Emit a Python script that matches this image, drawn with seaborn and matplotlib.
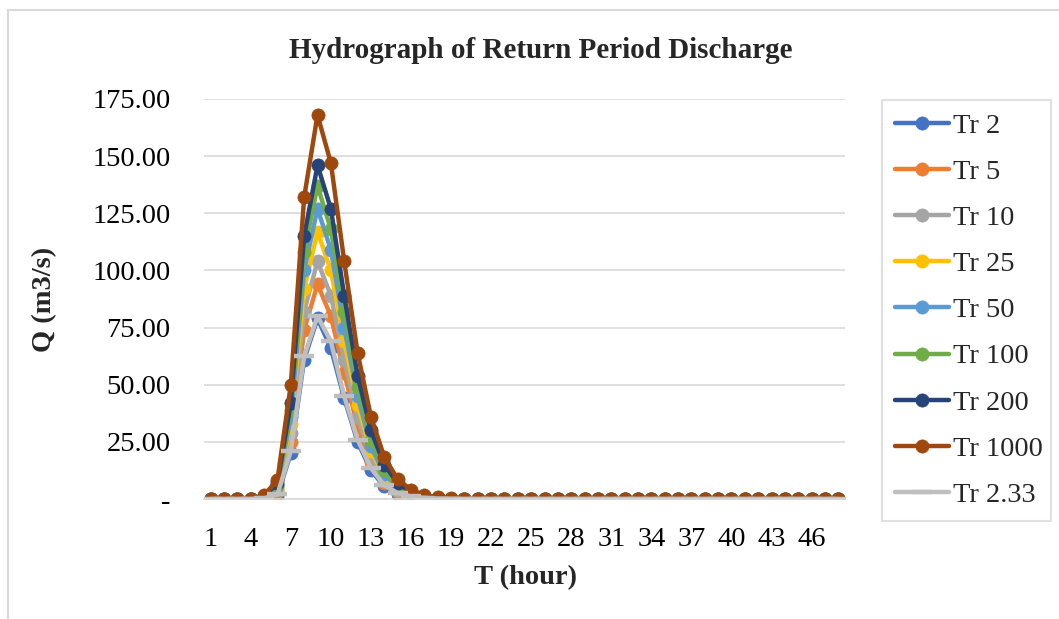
import matplotlib
matplotlib.use("Agg")
import matplotlib.pyplot as plt
import seaborn as sns
import pandas as pd
from matplotlib.patches import Rectangle

hours = list(range(1, 49))
tail = [0.0] * 29  # hours 20-48 read as ~0

tr2    = [0, 0, 0, 0, 0.2, 1.5, 20, 61, 79, 66, 44, 25, 12.5, 5.5, 2.4, 1.0, 0.4, 0.2, 0.1] + tail
tr5    = [0, 0, 0, 0, 0.4, 3.0, 25, 74, 94, 80, 55, 32, 16, 7.0, 3.0, 1.3, 0.5, 0.2, 0.1] + tail
tr10   = [0, 0, 0, 0, 0.5, 4.0, 29, 82, 104, 89, 61, 36, 18, 8.0, 3.5, 1.5, 0.6, 0.3, 0.1] + tail
tr25   = [0, 0, 0, 0, 0.7, 5.0, 33, 92, 117, 100, 69, 41, 21, 10, 4.3, 1.8, 0.7, 0.3, 0.1] + tail
tr50   = [0, 0, 0, 0, 0.8, 5.5, 36, 100, 127, 109, 75, 45, 23, 11, 5.0, 2.0, 0.8, 0.3, 0.1] + tail
tr100  = [0, 0, 0, 0, 0.9, 6.0, 39, 108, 137, 118, 82, 49, 26, 12.5, 5.5, 2.3, 0.9, 0.4, 0.2] + tail
tr200  = [0, 0, 0, 0, 1.0, 7.0, 42, 115, 146, 127, 89, 54, 30, 15, 7.0, 3.0, 1.2, 0.5, 0.2] + tail
tr1000 = [0, 0, 0, 0, 1.7, 8.3, 50, 132, 168, 147, 104, 64, 36, 18.4, 8.7, 4.0, 1.7, 0.8, 0.3] + tail
tr233  = [0, 0, 0, 0, 0.3, 2.0, 21, 62.5, 80, 69, 45, 26, 13.5, 6.0, 2.6, 1.1, 0.5, 0.2, 0.1] + tail

series_names = ["Tr 2", "Tr 5", "Tr 10", "Tr 25", "Tr 50", "Tr 100", "Tr 200", "Tr 1000", "Tr 2.33"]
series_vals = [tr2, tr5, tr10, tr25, tr50, tr100, tr200, tr1000, tr233]
colors = ["#4472C4", "#ED7D31", "#A5A5A5", "#FFC000", "#5B9BD5", "#70AD47", "#264478", "#9E480E", "#BFBFBF"]

yticks = [0, 25, 50, 75, 100, 125, 150, 175]
ytick_labels = ["-", "25.00", "50.00", "75.00", "100.00", "125.00", "150.00", "175.00"]
xticks = list(range(1, 49, 3))

sns.set_theme(style="white")
plt.rcParams["font.family"] = ["Liberation Serif", "DejaVu Serif"]

fig = plt.figure(figsize=(10.59, 6.19), dpi=100)
W, H = 1059, 619
ax = fig.add_axes([204 / W, 1 - 499 / H, (845 - 204) / W, (499 - 99) / H])

# chart area border
fig.patches.append(Rectangle((8 / W, -0.1), 1.2, 1 - 10 / H + 0.1, transform=fig.transFigure,
                             fill=False, edgecolor="#D9D9D9", linewidth=1.5))

for name, vals, col in zip(series_names, series_vals, colors):
    df = pd.DataFrame({"T": hours, "Q": vals})
    if name == "Tr 2.33":
        sns.lineplot(data=df, x="T", y="Q", ax=ax, color=col, linewidth=3.2, marker="_",
                     markersize=14, markeredgewidth=3.2, markeredgecolor=col, label=name)
    else:
        sns.lineplot(data=df, x="T", y="Q", ax=ax, color=col, linewidth=3.2, marker="o",
                     markersize=9.5, markeredgewidth=0.5, markeredgecolor=col, label=name)

ax.set_xlim(0.5, 48.5)
ax.set_ylim(0, 175)
ax.set_yticks(yticks)
ax.set_yticklabels(ytick_labels)
ax.set_xticks(xticks)
ax.set_xticklabels([str(t) for t in xticks])
ax.tick_params(axis="both", length=0, labelsize=20.5, labelcolor="black")
ax.tick_params(axis="y", pad=24)
ax.tick_params(axis="x", pad=20)
ax.grid(axis="y", color="#D9D9D9", linewidth=1.2)
ax.set_axisbelow(True)
for s in ["top", "right", "left"]:
    ax.spines[s].set_visible(False)
ax.spines["bottom"].set_color("#D9D9D9")
ax.spines["bottom"].set_linewidth(1.2)

ax.set_xlabel("")
ax.set_ylabel("")
fig.text(541 / W, 1 - 50 / H, "Hydrograph of Return Period Discharge", ha="center", va="center",
         fontsize=21, fontweight="bold")
fig.text(525 / W, 1 - 578 / H, "T (hour)", ha="center", va="center", fontsize=20.5, fontweight="bold")
fig.text(45 / W, 1 - 299 / H, "Q (m3/s)", ha="center", va="center", rotation=90, fontsize=20.5,
         fontweight="bold")

leg = ax.legend(loc="upper left", bbox_to_anchor=(882 / W, 1 - 515 / H, (1051 - 882) / W, (515 - 100) / H),
                bbox_transform=fig.transFigure, mode="expand", frameon=True, fancybox=False,
                fontsize=20.5, handlelength=1.9, handletextpad=0.15, labelspacing=0.71,
                borderpad=0.45, borderaxespad=0)
leg.get_frame().set_edgecolor("#D9D9D9")
leg.get_frame().set_linewidth(1.5)

fig.savefig("out.png", dpi=100)
